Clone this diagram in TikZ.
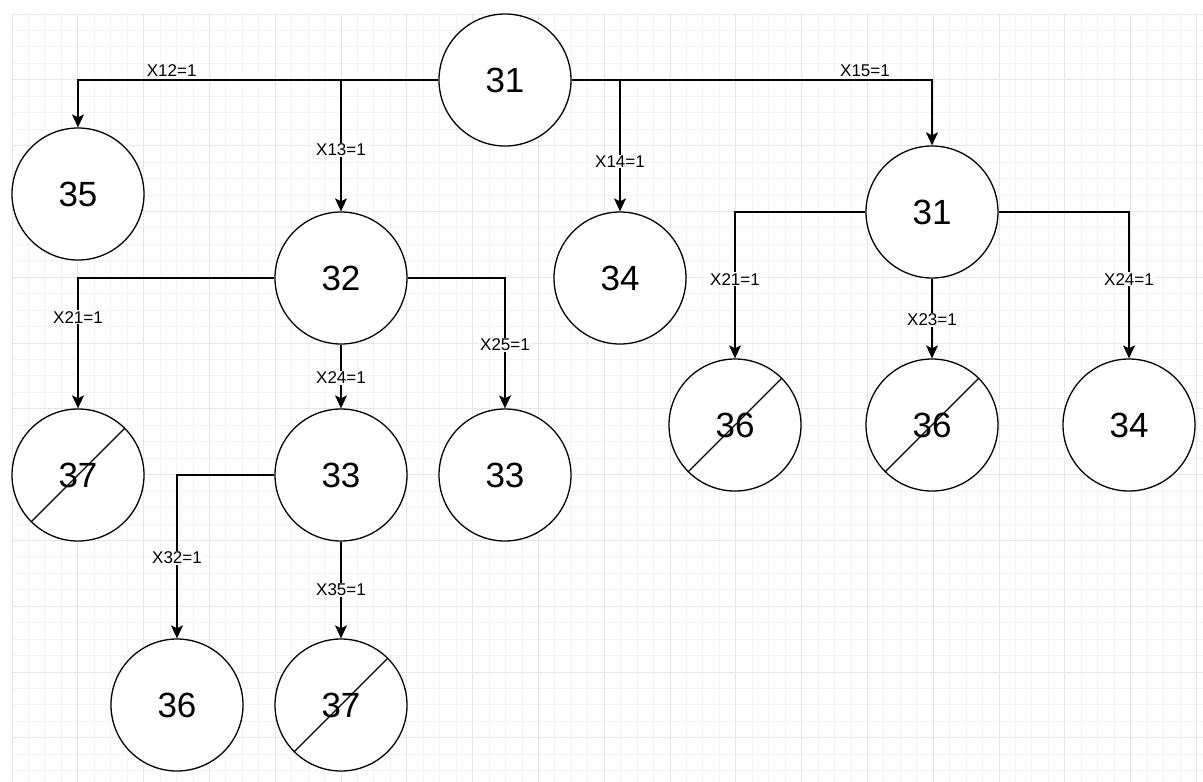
\documentclass[tikz,border=0pt]{standalone}
\usepackage{fontspec}
\setmainfont{Liberation Sans}
\usetikzlibrary{arrows.meta}
\definecolor{gridminor}{HTML}{F3F3F3}
\definecolor{gridmajor}{HTML}{E6E6E6}
\begin{document}
\begin{tikzpicture}[x=1pt,y=-1pt,
  state/.style={circle,draw,line width=1.3pt,minimum size=132pt,inner sep=0pt,fill=white,
    font=\fontsize{35}{40}\selectfont},
  conn/.style={line width=1.3pt,-{Stealth[length=13pt,width=12pt,inset=3pt]}},
  lab/.style={fill=white,inner sep=1pt,font=\fontsize{17}{19}\selectfont},
  lababove/.style={inner sep=1pt,above=2pt,font=\fontsize{17}{19}\selectfont},
  cross/.style={line width=1.3pt}]
\useasboundingbox (0,0) rectangle (1203,782);
% grid
\draw[gridminor,line width=0.9pt] \foreach \i in {0,...,72} {({12+\i*16.45},14) -- ({12+\i*16.45},782)};
\draw[gridminor,line width=0.9pt] \foreach \i in {0,...,46} {(12,{14+\i*16.45}) -- (1203,{14+\i*16.45})};
\draw[gridmajor,line width=0.9pt] \foreach \i in {0,...,18} {({12+\i*65.8},14) -- ({12+\i*65.8},782)};
\draw[gridmajor,line width=0.9pt] \foreach \i in {0,...,11} {(12,{14+\i*65.8}) -- (1203,{14+\i*65.8})};
% nodes
\node[state] (t31) at (505,80) {31};
\node[state] (n35) at (78,194) {35};
\node[state] (n32) at (341,278) {32};
\node[state] (n34a) at (620,278) {34};
\node[state] (r31) at (932,212) {31};
\node[state] (n37a) at (78,475) {37};
\node[state] (n33a) at (341,475) {33};
\node[state] (n33b) at (505,475) {33};
\node[state] (n36a) at (735,425) {36};
\node[state] (n36b) at (932,425) {36};
\node[state] (n34b) at (1129,425) {34};
\node[state] (n36c) at (177,705) {36};
\node[state] (n37b) at (341,705) {37};
% crossing lines
\foreach \n in {n37a,n36a,n36b,n37b}
  \draw[cross] (\n.south west) -- (\n.north east);
% connectors
\draw[conn] (t31.west) -| node[lababove,pos=0.37] {X12=1} (n35.north);
\draw[conn] (t31.west) -| node[lab,pos=0.765] {X13=1} (n32.north);
\draw[conn] (t31.east) -| node[lab,pos=0.81] {X14=1} (n34a.north);
\draw[conn] (t31.east) -| node[lababove,pos=0.407] {X15=1} (r31.north);
\draw[conn] (r31.west) -| node[lab,pos=0.73] {X21=1} (n36a.north);
\draw[conn] (r31.south) -- node[lab,pos=0.52] {X23=1} (n36b.north);
\draw[conn] (r31.east) -| node[lab,pos=0.73] {X24=1} (n34b.north);
\draw[conn] (n32.west) -| node[lab,pos=0.65] {X21=1} (n37a.north);
\draw[conn] (n32.south) -- node[lab,pos=0.52] {X24=1} (n33a.north);
\draw[conn] (n32.east) -| node[lab,pos=0.756] {X25=1} (n33b.north);
\draw[conn] (n33a.west) -| node[lab,pos=0.753] {X32=1} (n36c.north);
\draw[conn] (n33a.south) -- node[lab,pos=0.5] {X35=1} (n37b.north);
\end{tikzpicture}
\end{document}
